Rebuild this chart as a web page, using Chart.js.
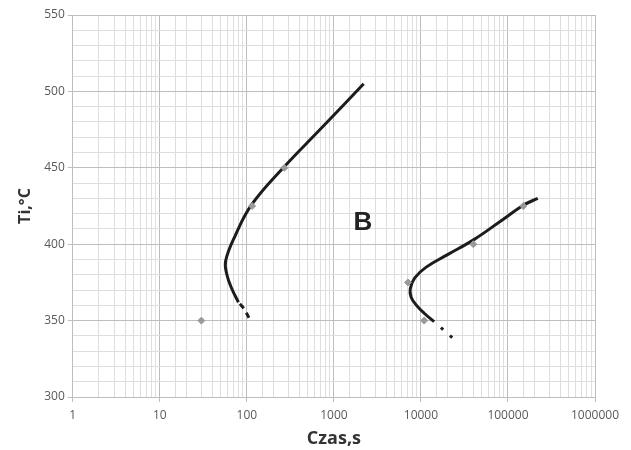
<!DOCTYPE html>
<html>
<head>
<meta charset="utf-8">
<script src="https://cdn.jsdelivr.net/npm/chart.js@4"></script>
<style>
  html, body { margin: 0; padding: 0; background: #fff; }
  #wrap { width: 631px; height: 450px; }
</style>
</head>
<body>
<div id="wrap"><canvas id="wykres"></canvas></div>
<script>
// dane (czas [s], temperatura [°C])
const leftCurveX = [2200, 720, 262, 114, 74, 57, 59, 67, 80];
const leftCurveY = [505, 476, 450, 426, 406, 389, 380, 371, 362];
const leftDashX = [80, 92, 109];
const leftDashY = [362, 358, 350.5];

const rightCurveX = [220000, 150000, 82000, 40600, 20000, 11500, 8500, 7550, 7700, 8800, 10900, 14200];
const rightCurveY = [430, 425.5, 415, 403, 393, 385, 378, 371, 365.5, 360.3, 354.8, 349.3];
const rightDotsX = [14200, 23000];
const rightDotsY = [349.3, 338.8];

const pointsX = [30, 115, 270, 7100, 10900, 40000, 150000];
const pointsY = [350, 425, 450, 375, 350, 400, 425];

const xTickLabels = [1, 10, 100, 1000, 10000, 100000, 1000000];
const yTickLabels = [300, 350, 400, 450, 500, 550];

const zip = (xs, ys) => xs.map((x, i) => ({ x: x, y: ys[i] }));

// napis "B" w polu wykresu
const labelB = {
  id: 'labelB',
  afterDatasetsDraw(chart) {
    const c = chart.ctx;
    const x = chart.scales.x.getPixelForValue(2150);
    const y = chart.scales.y.getPixelForValue(414);
    c.save();
    c.font = 'bold 26px "Liberation Sans", Arial, sans-serif';
    c.fillStyle = '#222';
    c.textAlign = 'center';
    c.textBaseline = 'middle';
    c.fillText('B', x, y);
    c.restore();
  }
};

new Chart(document.getElementById('wykres'), {
  type: 'scatter',
  data: {
    datasets: [
      {
        data: zip(pointsX, pointsY),
        pointStyle: 'rectRot',
        pointRadius: 3.5,
        backgroundColor: '#9a9a9a',
        borderColor: '#9a9a9a',
        showLine: false
      },
      {
        data: zip(leftCurveX, leftCurveY),
        showLine: true,
        borderColor: '#1c1c1c',
        borderWidth: 3,
        pointRadius: 0,
        tension: 0.4
      },
      {
        data: zip(leftDashX, leftDashY),
        showLine: true,
        borderColor: '#1c1c1c',
        borderWidth: 3,
        borderDash: [6, 5],
        borderDashOffset: -2,
        pointRadius: 0,
        tension: 0.4
      },
      {
        data: zip(rightCurveX, rightCurveY),
        showLine: true,
        borderColor: '#1c1c1c',
        borderWidth: 3,
        pointRadius: 0,
        tension: 0.4
      },
      {
        data: zip(rightDotsX, rightDotsY),
        showLine: true,
        borderColor: '#1c1c1c',
        borderWidth: 3,
        borderDash: [3, 9],
        borderDashOffset: 3,
        pointRadius: 0
      }
    ]
  },
  options: {
    responsive: true,
    maintainAspectRatio: false,
    animation: false,
    layout: { padding: { top: 15, right: 36, bottom: 0, left: 16 } },
    plugins: {
      legend: { display: false },
      tooltip: { enabled: false }
    },
    scales: {
      x: {
        type: 'logarithmic',
        min: 1,
        max: 1000000,
        grid: {
          color: ctx => (ctx.tick && xTickLabels.includes(ctx.tick.value)) ? '#bdbdbd' : '#dedede',
          tickColor: ctx => (ctx.tick && xTickLabels.includes(ctx.tick.value)) ? '#bdbdbd' : 'rgba(0,0,0,0)',
          tickLength: 5
        },
        border: { color: '#bdbdbd' },
        ticks: {
          autoSkip: false,
          maxRotation: 0,
          padding: 6,
          color: '#595959',
          font: { family: '"Open Sans", sans-serif', size: 12 },
          callback: v => xTickLabels.includes(v) ? String(v) : ''
        },
        title: {
          display: true,
          text: 'Czas,s',
          color: '#333',
          font: { family: '"Open Sans", sans-serif', size: 18, weight: 'bold' },
          padding: { top: 0, bottom: 0 }
        }
      },
      y: {
        min: 300,
        max: 550,
        grid: {
          color: ctx => (ctx.tick && yTickLabels.includes(ctx.tick.value)) ? '#bdbdbd' : '#dedede',
          tickColor: ctx => (ctx.tick && yTickLabels.includes(ctx.tick.value)) ? '#bdbdbd' : 'rgba(0,0,0,0)',
          tickLength: 5
        },
        border: { color: '#bdbdbd' },
        ticks: {
          stepSize: 10,
          autoSkip: false,
          color: '#595959',
          font: { family: '"Open Sans", sans-serif', size: 12 },
          callback: v => yTickLabels.includes(v) ? String(v) : ''
        },
        title: {
          display: true,
          text: 'Ti,°C',
          color: '#333',
          font: { family: '"Open Sans", sans-serif', size: 16, weight: 'bold' },
          padding: { top: 0, bottom: 6 }
        }
      }
    }
  },
  plugins: [labelB]
});
</script>
</body>
</html>
